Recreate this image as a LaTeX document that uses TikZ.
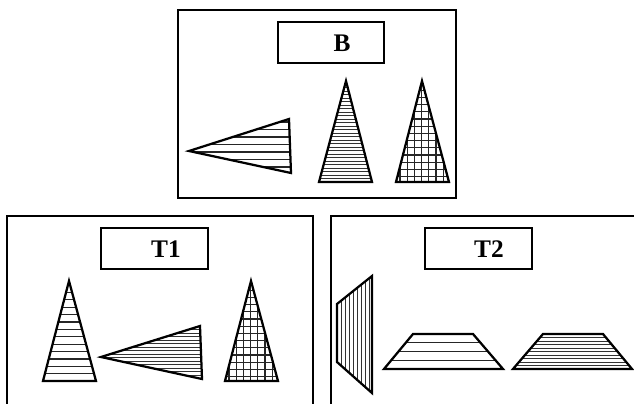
\documentclass[tikz,border=0pt]{standalone}
\usepackage{fontspec}
\setmainfont{Liberation Serif}
\usepackage{tikz}

\begin{document}
\begin{tikzpicture}[
    x=0.025cm, y=-0.025cm,
    frame/.style={
        draw=black,
        line width=1.5pt
    },
    lbl/.style={
        font=\fontsize{18}{21}\selectfont\bfseries,
        inner sep=0pt
    },
    outline/.style={
        draw=black,
        line width=1.6pt,
        line join=miter
    },
    hatch/.style={
        draw=black!85,
        line width=0.9pt
    },
    finehatch/.style={
        draw=black!80,
        line width=0.65pt
    }
]

\clip (0,0) rectangle (634,403);

% ============================================================
% Panel B (top)
% ============================================================

\draw[frame] (178,10) rectangle (456,198);
\draw[frame] (278,22) rectangle (384,63);
\node[lbl] (lblB) at (342,43) {B};

% lying triangle, sparse lines
\begin{scope}
    \clip (189,151) -- (289,119) -- (291,173) -- cycle;
    \foreach \y in {122,129.5,...,175}
        \draw[hatch] (180,\y) -- (300,\y);
\end{scope}
\draw[outline] (189,151) -- (289,119) -- (291,173) -- cycle;

% standing triangle, dense lines
\begin{scope}
    \clip (346,81) -- (319,182) -- (372,182) -- cycle;
    \foreach \y in {84,87.5,...,183}
        \draw[finehatch] (310,\y) -- (380,\y);
\end{scope}
\draw[outline] (346,81) -- (319,182) -- (372,182) -- cycle;

% standing triangle, grid
\begin{scope}
    \clip (422,81) -- (396,182) -- (449,182) -- cycle;
    \foreach \y in {83,90.2,...,183}
        \draw[hatch] (390,\y) -- (455,\y);
    \foreach \x in {400,407.2,...,450}
        \draw[hatch] (\x,75) -- (\x,185);
\end{scope}
\draw[outline] (422,81) -- (396,182) -- (449,182) -- cycle;

% ============================================================
% Panel T1 (bottom left)
% ============================================================

\draw[frame] (7,216) rectangle (313,430);
\draw[frame] (101,228) rectangle (208,269);
\node[lbl] (lblT1) at (166,249) {T1};

% standing triangle, sparse lines
\begin{scope}
    \clip (69,281) -- (43,381) -- (96,381) -- cycle;
    \foreach \y in {285,292.4,...,382}
        \draw[hatch] (35,\y) -- (105,\y);
\end{scope}
\draw[outline] (69,281) -- (43,381) -- (96,381) -- cycle;

% lying triangle, dense lines
\begin{scope}
    \clip (101,357) -- (200,326) -- (202,379) -- cycle;
    \foreach \y in {326,329.5,...,380}
        \draw[finehatch] (95,\y) -- (210,\y);
\end{scope}
\draw[outline] (101,357) -- (200,326) -- (202,379) -- cycle;

% standing triangle, grid
\begin{scope}
    \clip (251,281) -- (225,381) -- (278,381) -- cycle;
    \foreach \y in {283,290.2,...,383}
        \draw[hatch] (220,\y) -- (285,\y);
    \foreach \x in {229,236.2,...,280}
        \draw[hatch] (\x,275) -- (\x,385);
\end{scope}
\draw[outline] (251,281) -- (225,381) -- (278,381) -- cycle;

% ============================================================
% Panel T2 (bottom right)
% ============================================================

\draw[frame] (331,216) rectangle (660,430);
\draw[frame] (425,228) rectangle (532,269);
\node[lbl] (lblT2) at (489,249) {T2};

% slanted quad, vertical lines
\begin{scope}
    \clip (337,304) -- (372,276) -- (372,393) -- (337,362) -- cycle;
    \foreach \x in {337,341,...,373}
        \draw[finehatch] (\x,270) -- (\x,400);
\end{scope}
\draw[outline] (337,304) -- (372,276) -- (372,393) -- (337,362) -- cycle;

% trapezoid, sparse lines
\begin{scope}
    \clip (384,369) -- (503,369) -- (473,334) -- (413,334) -- cycle;
    \foreach \y in {334,342.75,...,370}
        \draw[hatch] (380,\y) -- (510,\y);
\end{scope}
\draw[outline] (384,369) -- (503,369) -- (473,334) -- (413,334) -- cycle;

% trapezoid, dense lines
\begin{scope}
    \clip (513,369) -- (632,369) -- (603,334) -- (543,334) -- cycle;
    \foreach \y in {334,337.5,...,370}
        \draw[finehatch] (510,\y) -- (640,\y);
\end{scope}
\draw[outline] (513,369) -- (632,369) -- (603,334) -- (543,334) -- cycle;

\end{tikzpicture}
\end{document}
